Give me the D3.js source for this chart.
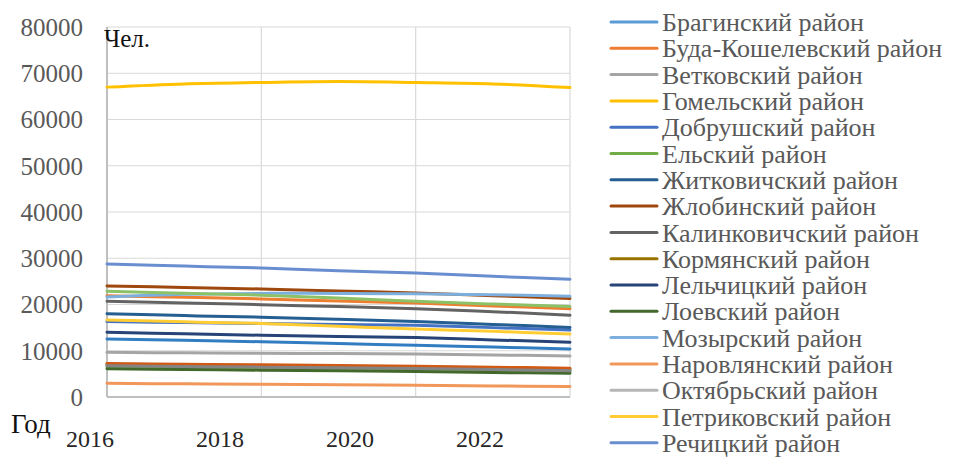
<!DOCTYPE html>
<html lang="ru">
<head>
<meta charset="utf-8">
<title>Сельское население районов</title>
<style>
  body { margin: 0; background: #fff; }
  svg text { font-family: "Liberation Serif", "DejaVu Serif", serif; }
</style>
</head>
<body>
<div id="chart"></div>
<script src="https://cdnjs.cloudflare.com/ajax/libs/d3/7.8.5/d3.min.js"></script>
<script>

var years = [2016, 2017, 2018, 2019, 2020, 2021, 2022];
var xTickYears = [2016, 2018, 2020, 2022];
var yTicks = [0, 10000, 20000, 30000, 40000, 50000, 60000, 70000, 80000];

var districts = [
  "Брагинский район", "Буда-Кошелевский район", "Ветковский район", "Гомельский район",
  "Добрушский район", "Ельский район", "Житковичский район", "Жлобинский район",
  "Калинковичский район", "Кормянский район", "Лельчицкий район", "Лоевский район",
  "Мозырский район", "Наровлянский район", "Октябрьский район", "Петриковский район",
  "Речицкий район", "Рогачевский район", "Светлогорский район", "Хойникский район",
  "Чечерский район"
];
var legendCount = 17; // only these fit in the picture

// values, one row per district (2016..2022)
var values = [
  [7100, 6950, 6800, 6650, 6500, 6300, 6050],
  [21900, 21550, 21200, 20750, 20300, 19700, 19100],
  [9650, 9550, 9450, 9400, 9300, 9100, 8850],
  [67000, 67700, 68000, 68200, 68000, 67700, 66900],
  [16300, 16100, 15900, 15700, 15500, 15000, 14500],
  [6550, 6400, 6250, 6100, 5950, 5750, 5500],
  [18000, 17600, 17250, 16800, 16300, 15700, 15050],
  [24000, 23700, 23350, 22900, 22500, 21900, 21300],
  [20700, 20350, 19950, 19550, 19100, 18450, 17700],
  [6900, 6750, 6600, 6450, 6300, 6100, 5850],
  [14000, 13650, 13350, 13100, 12850, 12350, 11850],
  [6100, 5950, 5800, 5650, 5500, 5300, 5150],
  [21600, 22200, 22400, 22400, 22300, 22100, 21800],
  [2950, 2850, 2750, 2650, 2550, 2400, 2250],
  [7000, 6850, 6700, 6550, 6400, 6200, 5950],
  [16650, 16250, 15900, 15300, 14700, 14200, 13600],
  [28750, 28300, 27900, 27300, 26800, 26100, 25450],
  [22850, 22450, 22000, 21400, 20700, 20100, 19550],
  [12550, 12250, 11950, 11550, 11200, 10800, 10400],
  [7250, 7100, 6950, 6800, 6650, 6450, 6200],
  [6750, 6600, 6450, 6300, 6150, 5950, 5700]
];

var colors = [
  "#5B9BD5", "#ED7D31", "#A5A5A5", "#FFC000", "#4472C4", "#70AD47",
  "#255E91", "#9E480E", "#636363", "#997300", "#264478", "#43682B",
  "#7CAFDD", "#F1975A", "#B7B7B7", "#FFCD33", "#698ED0", "#8CC168",
  "#327DC2", "#D05A14", "#848484"
];

var fullwidth = 957, fullheight = 458;
var plot = {left: 107, right: 570, top: 27, bottom: 397};
var serif = "'Liberation Serif', 'DejaVu Serif', serif";

var svg = d3.select("#chart").append("svg")
  .attr("width", fullwidth)
  .attr("height", fullheight)
  .attr("font-family", serif);

var xScale = d3.scaleLinear().domain([2016, 2022]).range([plot.left, plot.right]);
var yScale = d3.scaleLinear().domain([0, 80000]).range([plot.bottom, plot.top]);
// the year labels sit to the left of their gridlines in the original
var xLabelScale = d3.scaleLinear().domain([2016, 2022]).range([90, 480]);

// gridlines
svg.append("g").selectAll("line")
  .data(yTicks.slice(1))
  .enter().append("line")
  .attr("x1", plot.left).attr("x2", plot.right)
  .attr("y1", function(d) { return yScale(d); })
  .attr("y2", function(d) { return yScale(d); })
  .attr("stroke", "#d9d9d9").attr("stroke-width", 1.2);

svg.append("g").selectAll("line")
  .data(xTickYears.slice(1))
  .enter().append("line")
  .attr("x1", function(d) { return xScale(d); })
  .attr("x2", function(d) { return xScale(d); })
  .attr("y1", plot.top).attr("y2", plot.bottom)
  .attr("stroke", "#d9d9d9").attr("stroke-width", 1.2);

// axis lines
svg.append("line")
  .attr("x1", plot.left).attr("x2", plot.left)
  .attr("y1", plot.top).attr("y2", plot.bottom)
  .attr("stroke", "#bfbfbf").attr("stroke-width", 2);
svg.append("line")
  .attr("x1", plot.left).attr("x2", plot.right)
  .attr("y1", plot.bottom).attr("y2", plot.bottom)
  .attr("stroke", "#bfbfbf").attr("stroke-width", 2);

// y labels
svg.append("g").selectAll("text")
  .data(yTicks)
  .enter().append("text")
  .attr("x", 83)
  .attr("y", function(d) { return yScale(d); })
  .attr("dy", "0.35em")
  .attr("text-anchor", "end")
  .attr("font-family", serif)
  .attr("font-size", 25)
  .attr("fill", "#595959")
  .text(function(d) { return d; });

// x labels
svg.append("g").selectAll("text")
  .data(xTickYears)
  .enter().append("text")
  .attr("x", function(d) { return xLabelScale(d); })
  .attr("y", 447)
  .attr("text-anchor", "middle")
  .attr("font-family", serif)
  .attr("font-size", 24)
  .attr("fill", "#262626")
  .text(function(d) { return d; });

svg.append("text").attr("x", 104).attr("y", 47)
  .attr("font-family", serif)
  .attr("font-size", 25).attr("fill", "#111").text("Чел.");
svg.append("text").attr("x", 11).attr("y", 433)
  .attr("font-family", serif)
  .attr("font-size", 27).attr("fill", "#111").text("Год");

// lines
var line = d3.line()
  .x(function(d, i) { return xScale(years[i]); })
  .y(function(d) { return yScale(d); })
  .curve(d3.curveCatmullRom.alpha(0.5));

svg.append("g").selectAll("path")
  .data(values)
  .enter().append("path")
  .attr("d", line)
  .attr("fill", "none")
  .attr("stroke", function(d, i) { return colors[i]; })
  .attr("stroke-width", 3)
  .attr("stroke-linecap", "round");

// legend
var legend = svg.append("g").selectAll("g")
  .data(districts.slice(0, legendCount))
  .enter().append("g")
  .attr("transform", function(d, i) { return "translate(611," + (22 + i * 26.3) + ")"; });

legend.append("line")
  .attr("x1", 0).attr("x2", 46)
  .attr("stroke", function(d, i) { return colors[i]; })
  .attr("stroke-width", 3)
  .attr("stroke-linecap", "round");

legend.append("text")
  .attr("x", 51)
  .attr("dy", "0.35em")
  .attr("font-family", serif)
  .attr("font-size", 26)
  .attr("fill", "#595959")
  .text(function(d) { return d; });

</script>
</body>
</html>
